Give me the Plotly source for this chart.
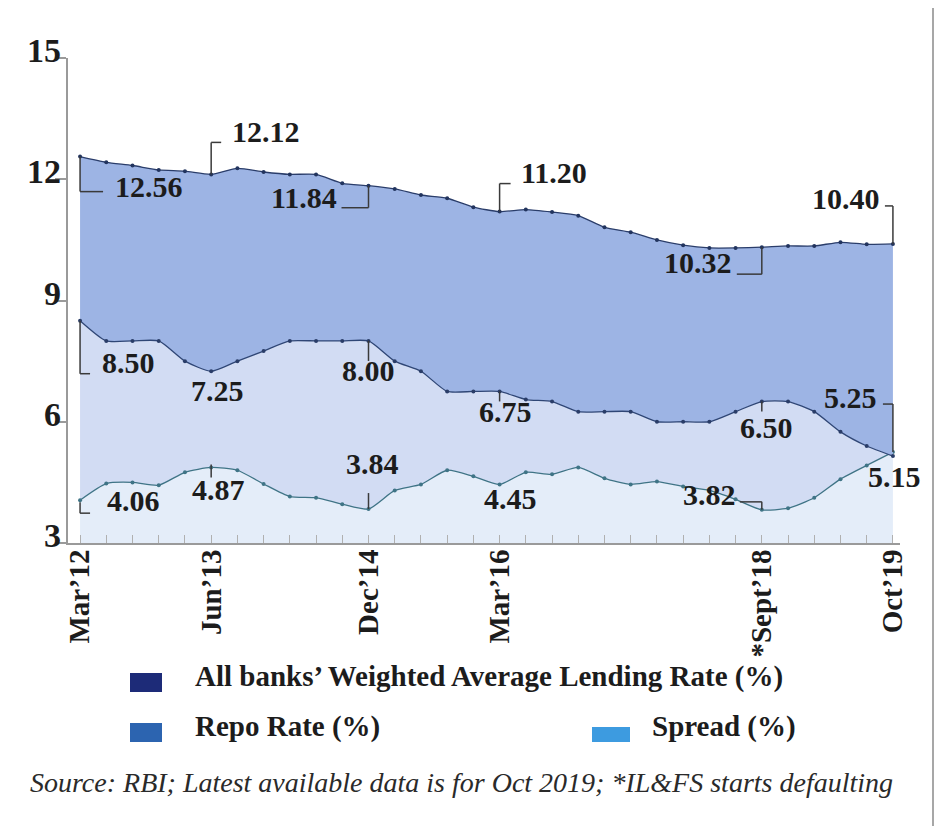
import plotly.graph_objects as go

# ---------------- data ----------------
periods = ["Mar'12", "Jun'12", "Sep'12", "Dec'12", "Mar'13", "Jun'13", "Sep'13", "Dec'13",
           "Mar'14", "Jun'14", "Sep'14", "Dec'14", "Mar'15", "Jun'15", "Sep'15", "Dec'15",
           "Mar'16", "Jun'16", "Sep'16", "Dec'16", "Mar'17", "Jun'17", "Sep'17", "Dec'17",
           "Mar'18", "Jun'18", "Sep'18", "Dec'18", "Mar'19", "Jun'19", "Sep'19", "Oct'19"]

walr = [12.56, 12.42, 12.34, 12.23, 12.20, 12.12, 12.27, 12.18, 12.12, 12.12, 11.90, 11.84,
        11.76, 11.61, 11.53, 11.31, 11.20, 11.25, 11.19, 11.10, 10.81, 10.69, 10.50, 10.37,
        10.30, 10.30, 10.32, 10.35, 10.35, 10.44, 10.39, 10.40]

repo = [8.50, 8.00, 8.00, 8.00, 7.50, 7.25, 7.50, 7.75, 8.00, 8.00, 8.00, 8.00,
        7.50, 7.25, 6.75, 6.75, 6.75, 6.55, 6.50, 6.25, 6.25, 6.25, 6.00, 6.00,
        6.00, 6.25, 6.50, 6.50, 6.25, 5.75, 5.40, 5.15]

spread = [4.06, 4.47, 4.50, 4.43, 4.75, 4.87, 4.80, 4.46, 4.15, 4.12, 3.96, 3.84,
          4.30, 4.45, 4.80, 4.65, 4.45, 4.75, 4.70, 4.87, 4.60, 4.45, 4.52, 4.40,
          4.30, 4.08, 3.82, 3.86, 4.12, 4.58, 4.92, 5.25]

tick_idx = [0, 5, 11, 16, 26, 31]
tick_text = ["Mar\u201912", "Jun\u201913", "Dec\u201914", "Mar\u201916", "*Sept\u201918", "Oct\u201919"]
y_ticks = [3, 6, 9, 12, 15]

legend_names = ["All banks\u2019 Weighted Average Lending Rate (%)", "Repo Rate (%)", "Spread (%)"]
source_text = "Source: RBI; Latest available data is for Oct 2019; *IL&FS starts defaulting"

# ---------------- geometry helpers ----------------
OFF = 8                       # page body margin in the browser
W, H = 942 - OFF, 827 - OFF
ML, MR, MT, MB = 68 - OFF, 42, 58 - OFF, 284
PW, PH = W - ML - MR, H - MT - MB
XR = [-0.46, 31.27]
YR = [3, 15]
PX_X = PW / (XR[1] - XR[0])
PX_Y = PH / (YR[1] - YR[0])


def px(xp):
    return (xp - OFF - ML) / PW


def py(yp):
    return (H - MB - (yp - OFF)) / PH


SERIF = "Liberation Serif"
TXT = "#1c1c1c"
n = len(periods)
xs = list(range(n))

fig = go.Figure()

# spread (bottom), repo, walr – stacked fill bands
fig.add_trace(go.Scatter(x=xs, y=spread, mode="lines+markers", fill="tozeroy",
                         fillcolor="#e4edf9", line=dict(color="#3f7486", width=1.3, shape="spline", smoothing=0.6),
                         marker=dict(size=4, color="#3f7486"), showlegend=False, hoverinfo="skip"))
fig.add_trace(go.Scatter(x=xs, y=repo, mode="lines+markers", fill="tonexty",
                         fillcolor="#d2dcf3", line=dict(color="#2f4675", width=1.3, shape="spline", smoothing=0.6),
                         marker=dict(size=4, color="#2a3d68"), showlegend=False, hoverinfo="skip"))
fig.add_trace(go.Scatter(x=xs, y=walr, mode="lines+markers", fill="tonexty",
                         fillcolor="#9db4e4", line=dict(color="#2a3d6a", width=1.3, shape="spline", smoothing=0.6),
                         marker=dict(size=4, color="#22345e"), showlegend=False, hoverinfo="skip"))

series = {"walr": walr, "repo": repo, "spread": spread}

# label specs: (series, index, bracket path in px offsets, text offset px, xanchor)
labels = [
    ("walr", 0, [(0, 0), (0, 35), (23, 35)], (33, 30), "left"),
    ("walr", 5, [(0, 0), (0, -32), (10, -32)], (19, -43), "left"),
    ("walr", 11, [(0, 0), (0, 22), (-27, 22)], (-30, 12), "right"),
    ("walr", 16, [(0, 0), (0, -28), (11, -28)], (19, -39), "left"),
    ("walr", 26, [(0, 0), (0, 27), (-25, 27)], (-28, 15), "right"),
    ("walr", 31, [(0, 0), (0, -38), (-8, -38)], (-11, -45), "right"),
    ("repo", 0, [(0, 0), (0, 53), (10, 53)], (20, 42), "left"),
    ("repo", 5, [], (6, 19), "center"),
    ("repo", 11, [(0, 0), (0, 20)], (0, 30), "center"),
    ("repo", 16, [(0, 0), (0, 10)], (6, 20), "center"),
    ("repo", 26, [(0, 0), (0, 10)], (5, 26), "center"),
    ("spread", 31, [(0, 0), (0, -48), (-10, -48)], (-14, -55), "right"),
    ("repo", 31, [], (2, 20), "center"),
    ("spread", 0, [(0, 2), (0, 13), (10, 13)], (25, 0), "left"),
    ("spread", 5, [(0, -3), (0, 10)], (7, 22), "center"),
    ("spread", 11, [(0, 0), (0, -16)], (4, -46), "center"),
    ("spread", 16, [], (11, 14), "center"),
    ("spread", 26, [(0, 0), (0, -8), (-22, -8)], (-24, -15), "right"),
]

shapes = []
annotations = []
for key, i, path, (tdx, tdy), xa in labels:
    v = series[key][i]
    pts = [(i + dx / PX_X, v - dy / PX_Y) for dx, dy in path]
    for (x0, y0), (x1, y1) in zip(pts[:-1], pts[1:]):
        shapes.append(dict(type="line", xref="x", yref="y", x0=x0, y0=y0, x1=x1, y1=y1,
                           line=dict(color="#3a3a3a", width=1.5), layer="above"))
    annotations.append(dict(x=i, y=v, xref="x", yref="y", text=f"{v:.2f}", showarrow=False,
                            xanchor=xa, yanchor="middle", xshift=tdx, yshift=-tdy,
                            font=dict(family=SERIF, size=30, color=TXT, weight="bold")))

# y tick labels (sit just above their tick marks)
for t in y_ticks:
    annotations.append(dict(x=px(63), y=t, xref="paper", yref="y", text=str(t), showarrow=False,
                            xanchor="right", yanchor="bottom", yshift=-13,
                            font=dict(family=SERIF, size=34, color=TXT, weight="bold")))

# custom legend
leg_items = [
    (legend_names[0], "#1d2b78", 130, 673, 162, 692, 193, 676),
    (legend_names[1], "#2c64b0", 130, 723, 162, 742, 193, 726),
    (legend_names[2], "#3d9be0", 592, 727, 630, 742, 650, 726),
]
for name, col, x0, y0, x1, y1, tx, ty in leg_items:
    shapes.append(dict(type="rect", xref="paper", yref="paper", x0=px(x0), x1=px(x1), y0=py(y1), y1=py(y0),
                       fillcolor=col, line=dict(width=0)))
    annotations.append(dict(x=px(tx), y=py(ty), xref="paper", yref="paper", text=name, showarrow=False,
                            xanchor="left", yanchor="middle",
                            font=dict(family=SERIF, size=29, color=TXT, weight="bold")))

annotations.append(dict(x=px(461), y=py(782), xref="paper", yref="paper", text=source_text, showarrow=False,
                        xanchor="center", yanchor="middle",
                        font=dict(family=SERIF, size=28, color="#2a2a2a", style="italic")))

# right border line
shapes.append(dict(type="line", xref="paper", yref="paper", x0=px(933), x1=px(933), y0=py(826), y1=py(0),
                   line=dict(color="#8a8a8a", width=1.5)))

fig.update_layout(
    width=W, height=H,
    margin=dict(l=ML, r=MR, t=MT, b=MB, autoexpand=False),
    paper_bgcolor="white", plot_bgcolor="white",
    shapes=shapes, annotations=annotations,
    showlegend=False,
    xaxis=dict(range=XR, showgrid=False, zeroline=False, showline=True, linecolor="#9a9a9a", linewidth=2,
               tickmode="array", tickvals=xs, automargin=False, ticklabelstandoff=-7,
               ticktext=[tick_text[tick_idx.index(k)] if k in tick_idx else "" for k in xs],
               ticks="inside", ticklen=8, tickcolor="#b0b0b0", tickwidth=1, tickangle=-90,
               tickfont=dict(family=SERIF, size=29, color=TXT, weight="bold"), fixedrange=True),
    yaxis=dict(range=YR, showgrid=False, zeroline=False, showline=True, linecolor="#9a9a9a", linewidth=1.5,
               tickmode="array", tickvals=y_ticks, showticklabels=False, automargin=False,
               ticks="outside", ticklen=11, tickcolor="#9a9a9a", tickwidth=1.5, fixedrange=True),
)

fig.write_html("out.html")
